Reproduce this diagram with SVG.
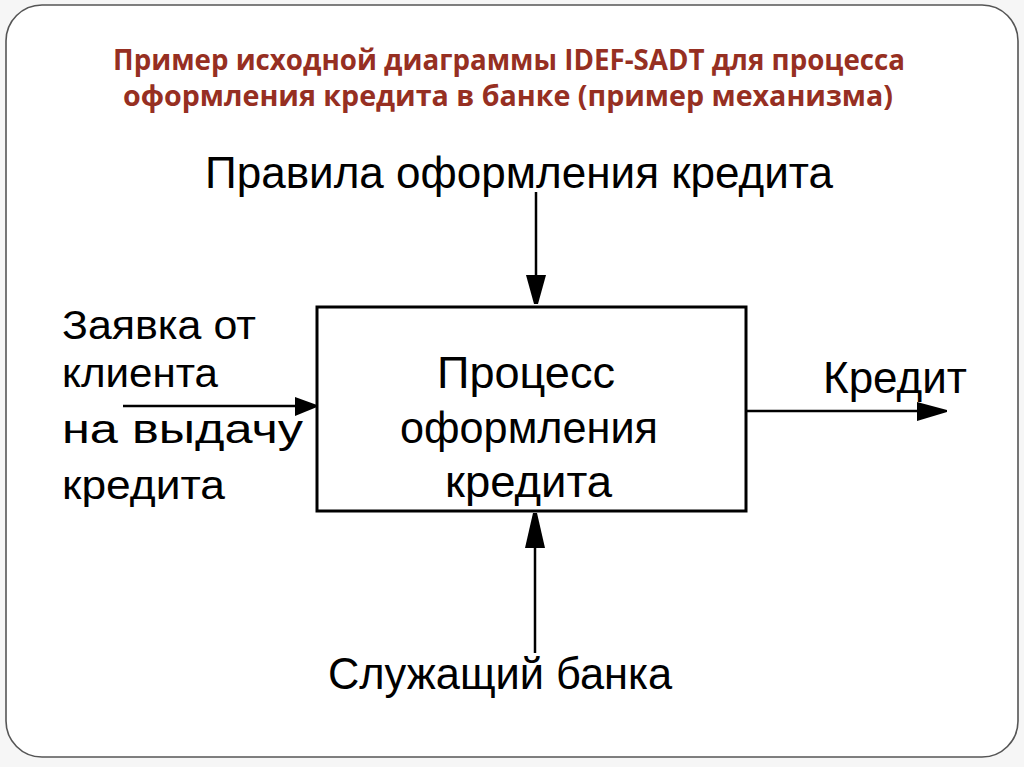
<svg xmlns="http://www.w3.org/2000/svg" width="1024" height="767" viewBox="0 0 1024 767">
<style>
.title{font-family:"Open Sans","Liberation Sans",sans-serif;font-weight:bold;font-size:29px;fill:#962f22}
.lbl{font-family:"Liberation Sans","DejaVu Sans",sans-serif;font-size:45px;fill:#000}
.lbl2{font-family:"Liberation Sans","DejaVu Sans",sans-serif;font-size:41px;fill:#000}
.ln{stroke:#000;stroke-width:2.5;fill:none}
.hd{fill:#000}
</style>
<rect x="0" y="0" width="1024" height="767" fill="#f6f6f6"/>
<rect x="6" y="5" width="1012" height="752" rx="36" ry="36" fill="#fff" stroke="#555" stroke-width="1.6"/>
<g id="title">
<text class="title" x="509" y="70" text-anchor="middle" textLength="792" lengthAdjust="spacingAndGlyphs">Пример исходной диаграммы IDEF-SADT для процесса</text>
<text class="title" x="508" y="106" text-anchor="middle" textLength="770" lengthAdjust="spacingAndGlyphs">оформления  кредита в банке (пример механизма)</text>
</g>
<g id="process">
<rect x="317" y="307" width="429" height="204" fill="#fff" stroke="#000" stroke-width="3"/>
<text class="lbl" x="437" y="388" textLength="178" lengthAdjust="spacingAndGlyphs">Процесс</text>
<text class="lbl" x="400" y="443" textLength="258" lengthAdjust="spacingAndGlyphs">оформления</text>
<text class="lbl" x="445" y="497" textLength="167" lengthAdjust="spacingAndGlyphs">кредита</text>
</g>
<g id="control">
<text class="lbl" x="205" y="188" textLength="628" lengthAdjust="spacingAndGlyphs">Правила оформления кредита</text>
</g>
<g id="input">
<text class="lbl2" x="62" y="339" textLength="194" lengthAdjust="spacingAndGlyphs">Заявка от</text>
<text class="lbl2" x="62" y="387" textLength="156" lengthAdjust="spacingAndGlyphs">клиента</text>
<text class="lbl2" x="62" y="443" textLength="241" lengthAdjust="spacingAndGlyphs">на выдачу</text>
<text class="lbl2" x="62" y="499" textLength="163" lengthAdjust="spacingAndGlyphs">кредита</text>
</g>
<g id="output">
<text class="lbl" x="823" y="393" textLength="144" lengthAdjust="spacingAndGlyphs">Кредит</text>
</g>
<g id="mechanism">
<text class="lbl" x="328" y="689" textLength="344" lengthAdjust="spacingAndGlyphs">Служащий банка</text>
</g>
<g id="connectors">
<line class="ln" x1="536" y1="192" x2="536" y2="280"/>
<polygon class="hd" points="526,275 546,275 538,304 534,304"/>
<line class="ln" x1="123" y1="406" x2="300" y2="406"/>
<polygon class="hd" points="295,397 295,416 317,407 317,405"/>
<line class="ln" x1="747" y1="411" x2="922" y2="411"/>
<polygon class="hd" points="917,402 917,421 947,412 947,410"/>
<line class="ln" x1="535" y1="545" x2="535" y2="653"/>
<polygon class="hd" points="525,548 545,548 537,513 533,513"/>
</g>
</svg>
